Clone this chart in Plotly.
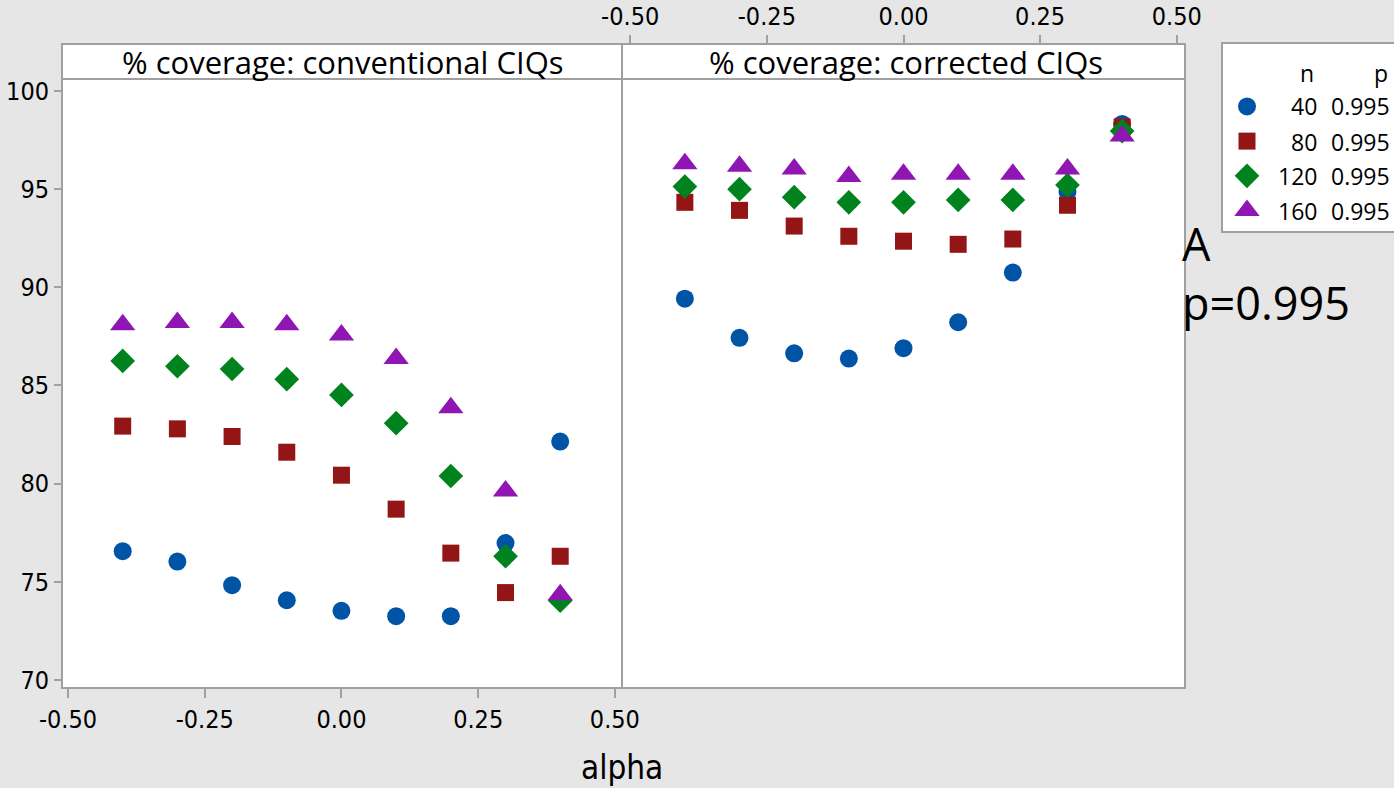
import plotly.graph_objects as go

W, H = 1394, 788

alpha = [-0.4, -0.3, -0.2, -0.1, 0.0, 0.1, 0.2, 0.3, 0.4]
n_values = [40, 80, 120, 160]
p_value = "0.995"
panel_titles = ["% coverage: conventional CIQs", "% coverage: corrected CIQs"]
x_tickvals = [-0.5, -0.25, 0.0, 0.25, 0.5]
x_ticktext = ["-0.50", "-0.25", "0.00", "0.25", "0.50"]
y_tickvals = [70, 75, 80, 85, 90, 95, 100]

conv_40 = [76.56, 76.03, 74.83, 74.06, 73.52, 73.25, 73.25, 76.97, 82.14]
conv_80 = [82.93, 82.79, 82.40, 81.60, 80.43, 78.70, 76.46, 74.45, 76.30]
conv_120 = [86.25, 85.98, 85.84, 85.32, 84.52, 83.08, 80.39, 76.30, 74.04]
conv_160 = [88.09, 88.21, 88.21, 88.09, 87.57, 86.37, 83.86, 79.63, 74.34]

corr_40 = [89.42, 87.43, 86.64, 86.37, 86.90, 88.22, 90.75, 94.87, 98.32]
corr_80 = [94.33, 93.92, 93.12, 92.60, 92.35, 92.19, 92.46, 94.18, 98.17]
corr_120 = [95.13, 95.00, 94.59, 94.33, 94.33, 94.45, 94.45, 95.21, 97.96]
corr_160 = [96.30, 96.17, 96.03, 95.64, 95.76, 95.76, 95.76, 96.03, 97.71]

colors = ["#0054A6", "#931515", "#00821E", "#9016B4"]
symbols = ["circle", "square", "diamond", "triangle-up"]
sizes = [18, 17, 19, 22]

GREY = "#A0A0A0"
BG = "#E6E6E6"


def px(x):
    return x / W


def py(y):
    return 1 - y / H


fig = go.Figure()

conv = [conv_40, conv_80, conv_120, conv_160]
corr = [corr_40, corr_80, corr_120, corr_160]
for i in range(4):
    fig.add_trace(go.Scatter(x=alpha, y=conv[i], mode="markers", xaxis="x", yaxis="y",
                             marker=dict(symbol=symbols[i], color=colors[i], size=sizes[i], opacity=1,
                                         line=dict(width=0)),
                             showlegend=False, cliponaxis=False))
for i in range(4):
    fig.add_trace(go.Scatter(x=alpha, y=corr[i], mode="markers", xaxis="x2", yaxis="y",
                             marker=dict(symbol=symbols[i], color=colors[i], size=sizes[i], opacity=1,
                                         line=dict(width=0)),
                             showlegend=False, cliponaxis=False))

# legend markers on an auxiliary axis
leg_rows = [106, 142, 176, 211]
fig.add_trace(go.Scatter(x=[0.5] * 4, y=[4, 3, 2, 1], mode="markers", xaxis="x3", yaxis="y3",
                         marker=dict(symbol=symbols, color=colors, size=sizes, opacity=1, line=dict(width=0)),
                         showlegend=False, cliponaxis=False, hoverinfo="skip"))

tickfont = dict(family="Liberation Sans Narrow, DejaVu Sans Condensed, Liberation Sans, sans-serif",
                size=25, color="black")

y_dom = [py(688), py(80)]
fig.update_layout(
    width=W, height=H,
    margin=dict(l=0, r=0, t=0, b=0, autoexpand=False),
    paper_bgcolor=BG, plot_bgcolor="white",
    xaxis=dict(domain=[px(62), px(622)], range=[-0.511, 0.513], anchor="y", automargin=False,
               tickvals=x_tickvals, ticktext=x_ticktext, ticks="outside", ticklen=9, tickwidth=2,
               tickcolor=GREY, showgrid=False, zeroline=False, showline=False, tickfont=tickfont),
    xaxis2=dict(domain=[px(622), px(1185)], range=[-0.515, 0.515], anchor="free", position=py(44),
                side="top", tickvals=x_tickvals, ticktext=x_ticktext, ticks="outside", ticklen=9,
                tickwidth=2, tickcolor=GREY, showgrid=False, zeroline=False, showline=False,
                tickfont=tickfont, automargin=False),
    yaxis=dict(domain=y_dom, range=[69.59, 100.56], anchor="x", tickvals=y_tickvals, automargin=False,
               ticks="outside", ticklen=7, tickwidth=2, tickcolor=GREY, showgrid=False,
               zeroline=False, showline=False, tickfont=tickfont),
    xaxis3=dict(domain=[px(1232), px(1262)], range=[0, 1], visible=False, anchor="y3", automargin=False),
    yaxis3=dict(domain=[py(228), py(89)], range=[0.5, 4.5], visible=False, anchor="x3", automargin=False),
)

shapes = []
# strip backgrounds
shapes.append(dict(type="rect", xref="paper", yref="paper", x0=px(62), x1=px(1185), y0=py(80), y1=py(44),
                   fillcolor="white", line=dict(width=0), layer="below"))
# outer border
shapes.append(dict(type="rect", xref="paper", yref="paper", x0=px(62), x1=px(1185), y0=py(688), y1=py(44),
                   line=dict(color=GREY, width=2)))
# strip bottom line
shapes.append(dict(type="line", xref="paper", yref="paper", x0=px(62), x1=px(1185), y0=py(79), y1=py(79),
                   line=dict(color=GREY, width=2)))
# panel separator
shapes.append(dict(type="line", xref="paper", yref="paper", x0=px(622), x1=px(622), y0=py(688), y1=py(44),
                   line=dict(color=GREY, width=2)))
# legend box
shapes.append(dict(type="rect", xref="paper", yref="paper", x0=px(1222), x1=px(1400), y0=py(232), y1=py(43),
                   fillcolor="white", line=dict(color=GREY, width=2), layer="below"))
fig.update_layout(shapes=shapes)

ann = []
stripfont = dict(family="Open Sans, Noto Sans, sans-serif", size=31, color="black")
ann.append(dict(text=panel_titles[0], x=px(343), y=py(62), xref="paper", yref="paper", showarrow=False,
                font=stripfont, xanchor="center", yanchor="middle"))
ann.append(dict(text=panel_titles[1], x=px(906), y=py(62), xref="paper", yref="paper", showarrow=False,
                font=stripfont, xanchor="center", yanchor="middle"))
ann.append(dict(text="alpha", x=px(622), y=py(767), xref="paper", yref="paper", showarrow=False,
                font=dict(family="Liberation Sans Narrow, DejaVu Sans Condensed, Liberation Sans, sans-serif",
                          size=33, color="black"),
                xanchor="center", yanchor="middle"))
legfont = dict(family="Open Sans, Noto Sans, sans-serif", size=23, color="black")
ann.append(dict(text="n", x=px(1316), y=py(73), xref="paper", yref="paper", showarrow=False, font=legfont,
                xanchor="right", yanchor="middle"))
ann.append(dict(text="p", x=px(1390), y=py(73), xref="paper", yref="paper", showarrow=False, font=legfont,
                xanchor="right", yanchor="middle"))
for n, yy in zip(n_values, leg_rows):
    ann.append(dict(text=str(n), x=px(1319), y=py(yy), xref="paper", yref="paper", showarrow=False,
                    font=legfont, xanchor="right", yanchor="middle"))
    ann.append(dict(text=p_value, x=px(1392), y=py(yy), xref="paper", yref="paper", showarrow=False,
                    font=legfont, xanchor="right", yanchor="middle"))
bigfont = dict(family="Open Sans, Noto Sans, sans-serif", size=45, color="black")
ann.append(dict(text="A<br>p=" + p_value, x=px(1180), y=py(273), xref="paper", yref="paper",
                showarrow=False, font=bigfont, xanchor="left", yanchor="middle", align="left"))
fig.update_layout(annotations=ann)

fig.write_html(
    "out.html",
    config={"displayModeBar": False},
    post_script="document.body.style.margin='0';document.body.style.background='" + BG + "';",
)
